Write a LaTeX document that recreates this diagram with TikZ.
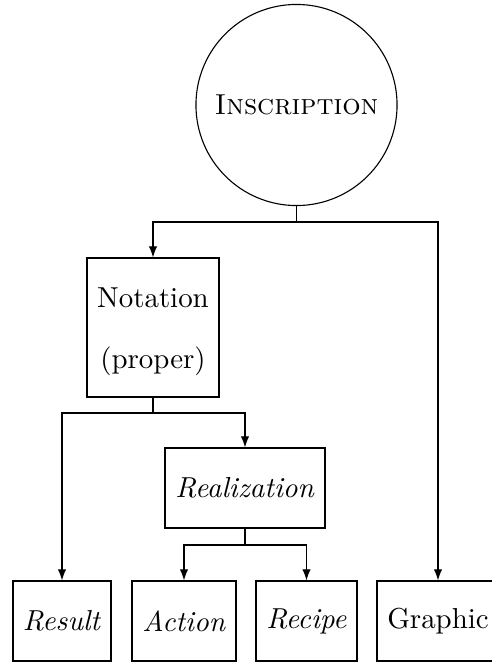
\documentclass[tikz,border=0pt]{standalone}
\usetikzlibrary{arrows.meta}
\begin{document}
\begin{tikzpicture}[x=0.36pt,y=-0.36pt,
  every node/.style={font=\fontsize{10.4pt}{12.5pt}\selectfont},
  box/.style={draw,line width=0.4pt,inner sep=0pt,align=center},
  arr/.style={-{Latex[length=4pt,width=3pt]},line width=0.4pt},
  ln/.style={line width=0.4pt}]
\useasboundingbox (0,0) rectangle (491,662);
\node[draw,circle,line width=0.4pt,minimum size=72.4pt,inner sep=0pt] (ins) at (296.5,105) {\textsc{Inscription}};
\node[box,minimum width=132*0.36pt,minimum height=139*0.36pt] (not) at (153,327.5) {};
\node[align=center,inner sep=0pt] (notlbl) at (153,332) {Notation\\[9.4pt](proper)};
\node[box,minimum width=160*0.36pt,minimum height=80*0.36pt] (rea) at (245,488) {\textit{Realization}};
\node[box,minimum width=98*0.36pt,minimum height=80*0.36pt] (res) at (62,621) {\textit{Result}};
\node[box,minimum width=104*0.36pt,minimum height=80*0.36pt] (act) at (184,621) {\textit{Action}};
\node[box,minimum width=101*0.36pt,minimum height=80*0.36pt] (rec) at (306.5,621) {\textit{Recipe}};
\node[box,minimum width=122*0.36pt,minimum height=80*0.36pt] (gra) at (438,621) {Graphic};
\coordinate (j1) at (296.5,222);
\coordinate (j2) at (153,413);
\coordinate (j3) at (245,545);
\draw[ln] (ins.south) -- (j1);
\draw[arr] (j1) -| (not.north);
\draw[arr] (j1) -| (gra.north);
\draw[ln] (not.south) -- (j2);
\draw[arr] (j2) -| (res.north);
\draw[arr] (j2) -| (rea.north);
\draw[ln] (rea.south) -- (j3);
\draw[arr] (j3) -| (act.north);
\draw[arr] (j3) -| (rec.north);
\end{tikzpicture}
\end{document}
